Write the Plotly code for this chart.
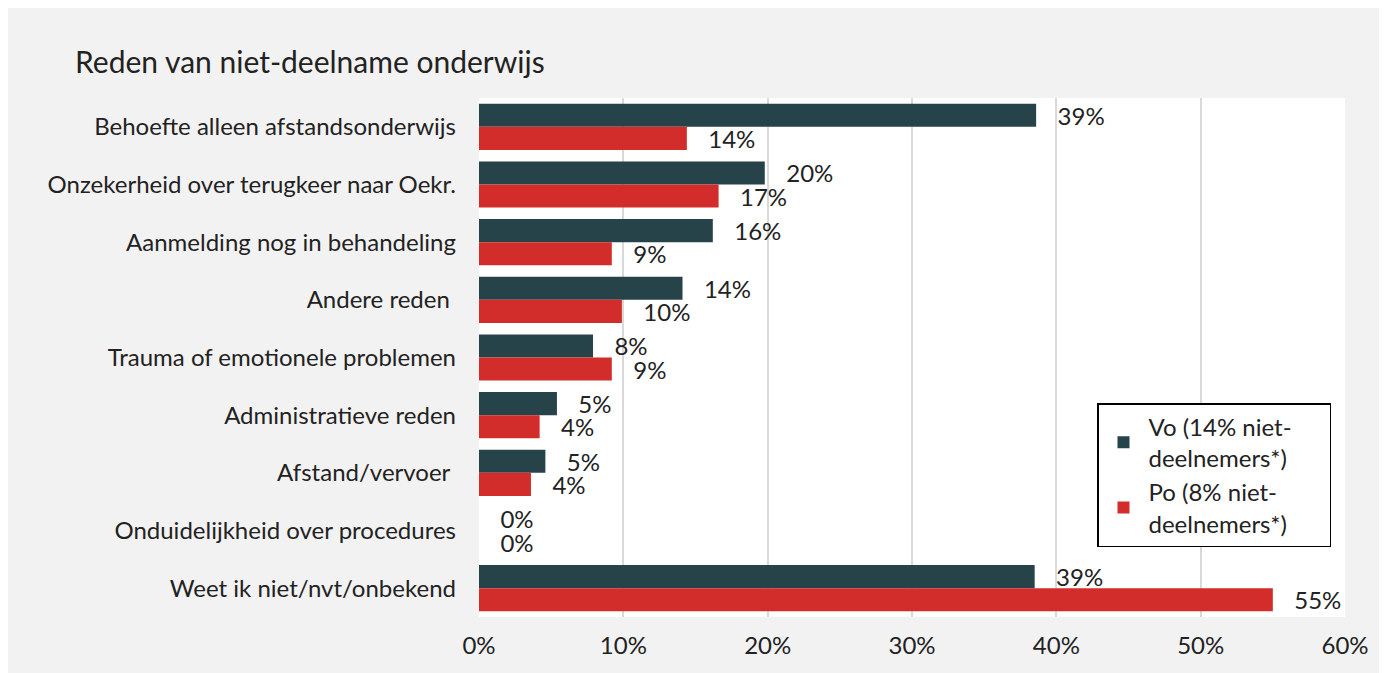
import plotly.graph_objects as go

categories = [
    "Behoefte alleen afstandsonderwijs",
    "Onzekerheid over terugkeer naar Oekr.",
    "Aanmelding nog in behandeling",
    "Andere reden\u00a0",
    "Trauma of emotionele problemen",
    "Administratieve reden",
    "Afstand/vervoer\u00a0",
    "Onduidelijkheid over procedures",
    "Weet ik niet/nvt/onbekend",
]
vo_values = [38.6, 19.8, 16.2, 14.1, 7.9, 5.4, 4.6, 0, 38.5]
po_values = [14.4, 16.6, 9.2, 9.9, 9.2, 4.2, 3.6, 0, 55.0]
series_names = ["Vo (14% niet-<br>deelnemers*)\u00a0\u00a0\u00a0\u00a0\u00a0\u00a0",
                "Po (8% niet-<br>deelnemers*)\u00a0\u00a0\u00a0\u00a0\u00a0\u00a0"]
x_ticks = [0, 10, 20, 30, 40, 50, 60]
x_tick_labels = ["0%", "10%", "20%", "30%", "40%", "50%", "60%"]

VO_COLOR = "#26434a"
PO_COLOR = "#d22c2b"
TEXT = "#222222"
FONT = "Lato"
FS = 24

# figure is placed at (8, 8) in the page
W, H = 1379, 665
L, R, T, B = 471, 42, 90, 56
PW, PH = W - L - R, H - T - B

fig = go.Figure()
for name, vals, col in [(series_names[0], vo_values, VO_COLOR), (series_names[1], po_values, PO_COLOR)]:
    fig.add_trace(go.Bar(
        y=categories, x=vals, orientation="h", name=name,
        marker=dict(color=col, line=dict(width=0)),
        texttemplate="\u00a0\u00a0\u00a0%{x:.0f}%", textposition="outside",
        constraintext="none",
        textfont=dict(family=FONT, size=FS, color=TEXT),
        cliponaxis=False,
    ))

fig.update_layout(
    width=W, height=H,
    margin=dict(l=L, r=R, t=T, b=B, pad=0),
    paper_bgcolor="#f2f2f2",
    plot_bgcolor="white",
    barmode="group", bargap=0.2, bargroupgap=0,
    font=dict(family=FONT, size=FS, color=TEXT),
    title=dict(text="Reden van niet-deelname onderwijs", x=67 / W, xanchor="left",
               y=1 - 54 / H, yanchor="middle",
               font=dict(family=FONT, size=30, color=TEXT)),
    legend=dict(x=(1097 - 479) / PW, y=(617 - 403) / PH,
                xanchor="left", yanchor="top",
                bgcolor="white", bordercolor="black", borderwidth=1.5,
                font=dict(family=FONT, size=FS, color=TEXT),
                traceorder="normal", itemwidth=40, tracegroupgap=2),
    showlegend=True,
)
fig.update_xaxes(range=[0, 60], tickvals=x_ticks, ticktext=x_tick_labels,
                 showgrid=True, gridcolor="#d9d9d9", gridwidth=1.5,
                 zeroline=False, showline=False, ticks="", ticklabelstandoff=12,
                 tickfont=dict(family=FONT, size=FS, color=TEXT), fixedrange=True)
fig.update_yaxes(autorange="reversed", showgrid=False, ticks="", showline=False,
                 ticklabelstandoff=22,
                 tickfont=dict(family=FONT, size=FS, color=TEXT))

fig.write_html("out.html")
